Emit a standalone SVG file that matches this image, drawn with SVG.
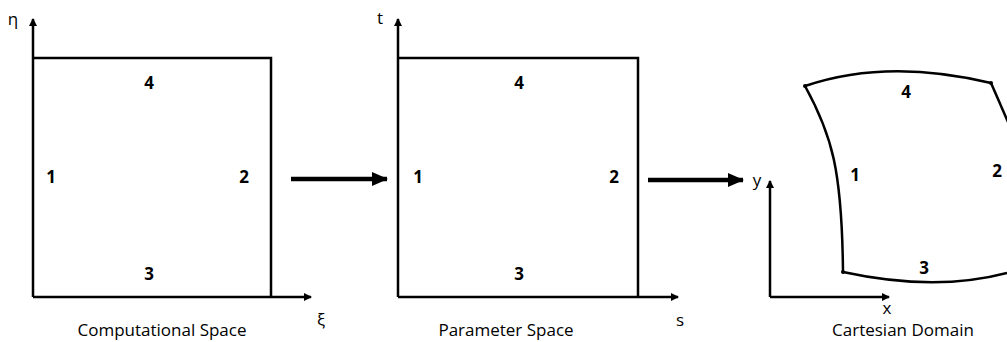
<svg xmlns="http://www.w3.org/2000/svg" width="1007" height="342" viewBox="0 0 1007 342">
<style>
.ln{fill:none;stroke:#000;stroke-width:2.5}
.ax{fill:none;stroke:#000;stroke-width:2.5}
.big{fill:none;stroke:#000;stroke-width:4.5}
.num{font-family:"Open Sans","Liberation Sans",sans-serif;font-weight:bold;font-size:17px;fill:#000;text-anchor:middle}
.cap{font-family:"Open Sans","Liberation Sans",sans-serif;font-size:17px;fill:#000;text-anchor:middle}
.axl{font-family:"Open Sans","Liberation Sans",sans-serif;font-size:17px;fill:#000;text-anchor:middle}
</style>
<defs>
<marker id="ah" markerWidth="8" markerHeight="8" refX="7" refY="4" orient="auto" markerUnits="userSpaceOnUse">
<path d="M0,0 L8,4 L0,8 Z" fill="#000"/>
</marker>
<marker id="bh" markerWidth="16" markerHeight="16" refX="15" refY="8" orient="auto" markerUnits="userSpaceOnUse">
<path d="M0,1 L16,8 L0,15 Z" fill="#000"/>
</marker>
</defs>
<g id="computational-space">
<path class="ax" d="M33,297 L33,19" marker-end="url(#ah)"/>
<path class="ax" d="M33,297 L311,297" marker-end="url(#ah)"/>
<path class="ln" d="M33,58 L271,58 L271,297"/>
<text class="axl" x="13" y="25">η</text>
<text class="axl" x="321" y="326">ξ</text>
<text class="num" x="149" y="89">4</text>
<text class="num" x="51" y="183">1</text>
<text class="num" x="244" y="183">2</text>
<text class="num" x="149" y="280">3</text>
<text class="cap" x="162" y="336">Computational Space</text>
</g>
<g id="parameter-space">
<path class="ax" d="M398,297 L398,19" marker-end="url(#ah)"/>
<path class="ax" d="M398,297 L678,297" marker-end="url(#ah)"/>
<path class="ln" d="M398,58 L638,58 L638,297"/>
<text class="axl" x="380" y="24">t</text>
<text class="axl" x="680" y="326">s</text>
<text class="num" x="519" y="89">4</text>
<text class="num" x="418" y="183">1</text>
<text class="num" x="614" y="183">2</text>
<text class="num" x="519" y="280">3</text>
<text class="cap" x="506" y="336">Parameter Space</text>
</g>
<g id="cartesian-domain">
<path class="ax" d="M770,297 L770,181" marker-end="url(#ah)"/>
<path class="ax" d="M770,297 L889,297" marker-end="url(#ah)"/>
<text class="axl" x="757" y="186">y</text>
<text class="axl" x="887" y="314">x</text>
<path class="ln" d="M805,86 Q887,58 991,83"/>
<path class="ln" d="M805,86 C832,135 842,170 843,272"/>
<path class="ln" d="M843,272 Q935,292 1007,273"/>
<path class="ln" d="M991,83 L1008,122"/>
<circle cx="805" cy="86" r="2" fill="#000"/>
<circle cx="991" cy="83" r="2" fill="#000"/>
<circle cx="843" cy="272" r="2" fill="#000"/>
<text class="num" x="906" y="98">4</text>
<text class="num" x="855" y="181">1</text>
<text class="num" x="997" y="177">2</text>
<text class="num" x="924" y="274">3</text>
<text class="cap" x="903" y="336">Cartesian Domain</text>
</g>
<g id="connectors">
<path class="big" d="M291,179 L387,179" marker-end="url(#bh)"/>
<path class="big" d="M648,180 L743,180" marker-end="url(#bh)"/>
</g>
</svg>
